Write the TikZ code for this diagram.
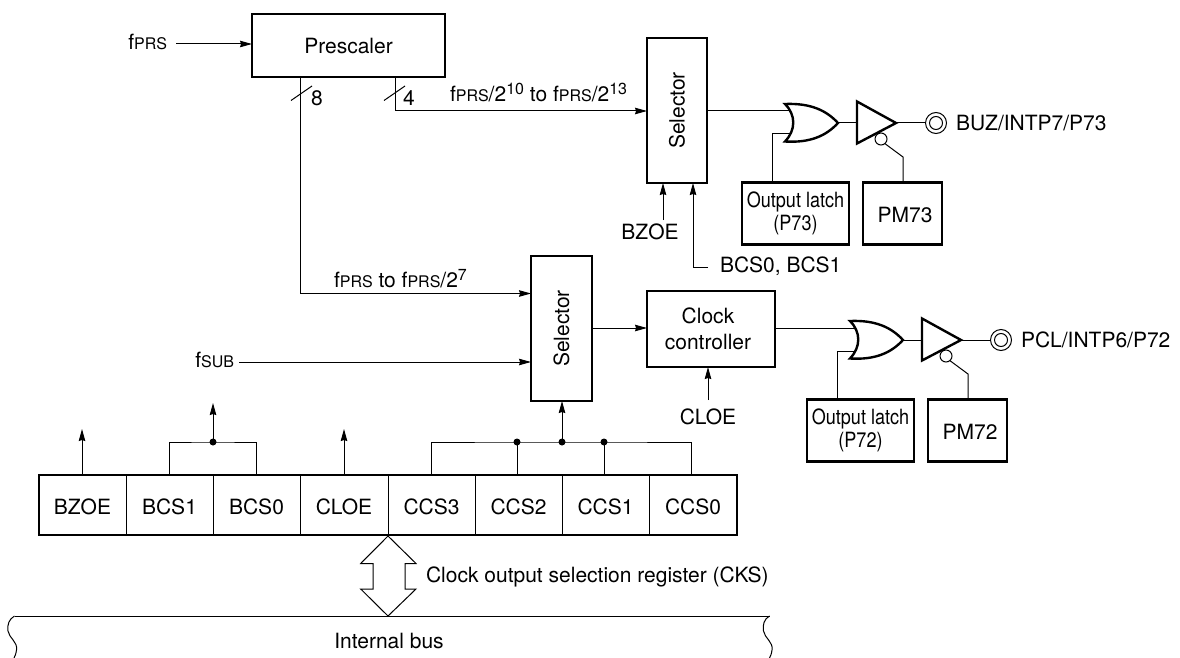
\documentclass[tikz,border=0pt]{standalone}
\usepackage{fontspec}
\setmainfont{TeX Gyre Heros}
\usetikzlibrary{arrows.meta}
\newcommand{\fsub}[1]{f{\fontsize{16}{18}\selectfont #1}}
\newcommand{\supr}[1]{\raisebox{7pt}{\fontsize{16}{18}\selectfont #1}}
\newcommand{\narrowtxt}[1]{\raisebox{-2pt}{\scalebox{.86}[1]{#1}}}
\tikzset{
  wire/.style={line width=1pt,line join=miter},
  arr/.style={wire,-{Stealth[length=12pt,width=6.5pt,inset=1pt]}},
  box/.style={draw,line width=2.4pt,outer sep=0pt,inner sep=0pt,align=center,font=\fontsize{21}{26}\selectfont},
  lbl/.style={inner sep=0pt,outer sep=0pt,font=\fontsize{21}{26}\selectfont},
  cell/.style={inner sep=0pt,outer sep=0pt,minimum height=60pt,text height=19pt,text depth=0pt,font=\fontsize{21}{26}\selectfont},
  dot/.style={circle,fill=black,draw=none,minimum size=7pt,inner sep=0pt,outer sep=0pt},
  gate/.style={line width=2.4pt,line join=miter},
}
% output block: #1 suffix, #2 port digits, #3 output text
\newcommand{\outblock}[3]{%
  \node[box,minimum width=107pt,minimum height=62pt,font=\fontsize{21}{23}\selectfont] (latch#1) at (795.5,213.5)
     {\narrowtxt{Output latch}\\\narrowtxt{(P#2)}};
  \node[box,minimum width=79pt,minimum height=62pt,text height=18pt] (pm#1) at (902.5,213.5) {\hspace*{5pt}PM#2};
  \coordinate (orin#1) at (791,111);
  \coordinate (orlow#1) at (791,134);
  \coordinate (ortip#1) at (838,123);
  \coordinate (bufin#1) at (857,123);
  \coordinate (buftip#1) at (896,123);
  \coordinate (bend#1) at (903,157);
  \draw[gate] (785,104) .. controls (810,103) and (826,110) .. (ortip#1)
     .. controls (826,136) and (810,143) .. (785,141.5)
     .. controls (796,130) and (796,115) .. cycle;
  \draw[gate] (857,101.5) -- (buftip#1) -- (857,143.5) -- cycle;
  \node[circle,draw,line width=1pt,minimum size=12pt,inner sep=0pt,outer sep=0pt,fill=white] (inv#1) at (881,139) {};
  \node[circle,draw,line width=1pt,minimum size=21pt,inner sep=0pt,outer sep=0pt] (pad#1) at (936,123) {};
  \node[circle,draw,line width=1pt,minimum size=13pt,inner sep=0pt,outer sep=0pt] at (936,123) {};
  \node[lbl,anchor=west,text height=15pt] (out#1) at (956,123) {#3};
  \draw[wire] (ortip#1) -- (bufin#1);
  \draw[wire] (buftip#1) -- (pad#1.west);
  \draw[wire] (latch#1.north -| 772,0) |- (orlow#1);
  \draw[wire] (inv#1.-50) -- (bend#1) -- (bend#1 |- pm#1.north);
}
\begin{document}
\begin{tikzpicture}[x=1pt,y=-1pt]
\useasboundingbox (0,0) rectangle (1180,658);
% boxes
\node[box,minimum width=193pt,minimum height=63pt,text height=16pt] (presc) at (348.5,45.5) {Prescaler};
\node[box,minimum width=145pt,minimum height=60pt,rotate=90] (sel1) at (677,110.5) {Selector};
\node[box,minimum width=145pt,minimum height=61pt,rotate=90] (sel2) at (561.5,328.5) {Selector};
\node[box,minimum width=128pt,minimum height=76pt] (clk) at (711,329) {\hspace*{-6pt}Clock\\\hspace*{-6pt}controller};
% labels
\node[lbl,anchor=base east] (fprs) at (167,50) {\fsub{PRS}};
\node[lbl,anchor=base west] (l1) at (450,102) {\fsub{PRS}/2\supr{10} to \fsub{PRS}/2\supr{13}};
\node[lbl,anchor=base west] (l2) at (334,287) {\fsub{PRS} to \fsub{PRS}/2\supr{7}};
\node[lbl,anchor=base east] (fsub) at (234,367.5) {\fsub{SUB}};
\node[lbl] (n8) at (317,98) {8};
\node[lbl] (n4) at (409,98) {4};
\node[lbl,text height=15pt] (bzoe) at (650,232) {BZOE};
\node[lbl,anchor=west,text height=15pt] (bcs) at (720,267) {BCS0, BCS1};
\node[lbl,text height=15pt] (cloe) at (708,417) {CLOE};
% prescaler connectors
\coordinate (fprsin) at (176,44);
\draw[arr] (fprsin) -- (fprsin -| presc.west);
\coordinate (c8) at (300,293.5);
\coordinate (c4) at (395,111);
\draw[arr] (c8 |- presc.south) -- (c8) -- (c8 -| sel2.north);
\draw[arr] (c4 |- presc.south) -- (c4) -- (c4 -| sel1.north);
\coordinate (t8a) at (291,100.5); \coordinate (t8b) at (312,86);
\coordinate (t4a) at (384,100.5); \coordinate (t4b) at (405,86);
\draw[wire] (t8a) -- (t8b);
\draw[wire] (t4a) -- (t4b);
% selector 1 inputs
\coordinate (bzin) at (663,220);
\draw[arr] (bzin) -- (bzin |- sel1.west);
\coordinate (bcsin) at (693,267);
\coordinate (bcsend) at (708,267);
\draw[arr] (bcsend) -- (bcsin) -- (bcsin |- sel1.west);
% fsub
\coordinate (fsubin) at (239,362);
\draw[arr] (fsubin) -- (fsubin -| sel2.north);
% selector 2 to clock
\coordinate (s2o) at (592,328);
\draw[arr] (s2o) -- (s2o -| clk.west);
\coordinate (cloein) at (708,400);
\draw[arr] (cloein) -- (cloein |- clk.south);
% output blocks
\outblock{a}{73}{BUZ/INTP7/P73}
\draw[wire] (orina -| sel1.south) -- (orina);
\begin{scope}[shift={(65,217)}]
\outblock{b}{72}{PCL/INTP6/P72}
\end{scope}
\draw[wire] (orinb -| clk.east) -- (orinb);
% register
\node[cell,minimum width=87pt] (r1) at (82.5,505) {BZOE};
\node[cell,minimum width=87pt] (r2) at (169.5,505) {BCS1};
\node[cell,minimum width=87pt] (r3) at (256.5,505) {BCS0};
\node[cell,minimum width=88pt] (r4) at (344,505) {CLOE};
\node[cell,minimum width=87pt] (r5) at (431.5,505) {CCS3};
\node[cell,minimum width=87pt] (r6) at (518.5,505) {CCS2};
\node[cell,minimum width=87pt] (r7) at (605.5,505) {CCS1};
\node[cell,minimum width=88pt] (r8) at (693,505) {CCS0};
\draw[line width=2.4pt] (r1.south west) rectangle (r8.north east);
\foreach \i in {1,...,7}{\draw[wire] (r\i.north east) -- (r\i.south east);}
% register connectors
\coordinate (u1) at (82,429);
\coordinate (u4) at (344,429);
\draw[arr] (u1 |- r1.north) -- (u1);
\draw[arr] (u4 |- r4.north) -- (u4);
\node[dot] (d1) at (213,442) {};
\node[dot] (d2) at (517,442) {};
\node[dot] (d3) at (562,442) {};
\node[dot] (d4) at (604,442) {};
\coordinate (u2) at (213,403);
\draw[wire] (r2.north -| 169,0) |- (d1.center) -| (r3.north -| 256,0);
\draw[arr] (d1.center) -- (u2);
\draw[wire] (r5.north -| 431,0) |- (d2.center) -- (d3.center) -- (d4.center) -| (r8.north -| 691,0);
\draw[wire] (d2.center) -- (d2 |- r6.north);
\draw[wire] (d4.center) -- (d4 |- r7.north);
\draw[arr] (d3.center) -- (d3 |- sel2.west);
% bus
\draw[line width=1pt] (360.7,563.5) -- (388,536) -- (416,563.5) -- (405,563.5) -- (405,589) -- (416,589)
   -- (388,616) -- (360.7,589) -- (373,589) -- (373,563.5) -- cycle;
\node[lbl,anchor=west,text height=15pt] (ckslbl) at (426,577) {Clock output selection register (CKS)};
\draw[line width=1pt] (14.5,616) .. controls (9,619) and (7,625) .. (8,631) .. controls (9,638) and (18,642) .. (16.5,650) .. controls (16,654) and (15,656) .. (14,658);
\draw[line width=1pt] (14.5,616) -- (769.5,616);
\draw[line width=1pt] (769.5,616) .. controls (764,619) and (762.5,625) .. (763.5,631) .. controls (764.5,638) and (773.5,642) .. (772,650) .. controls (771.5,654) and (770.5,656) .. (769.5,658);
\node[lbl,text height=15pt] (buslbl) at (389,641) {Internal bus};
\end{tikzpicture}
\end{document}
